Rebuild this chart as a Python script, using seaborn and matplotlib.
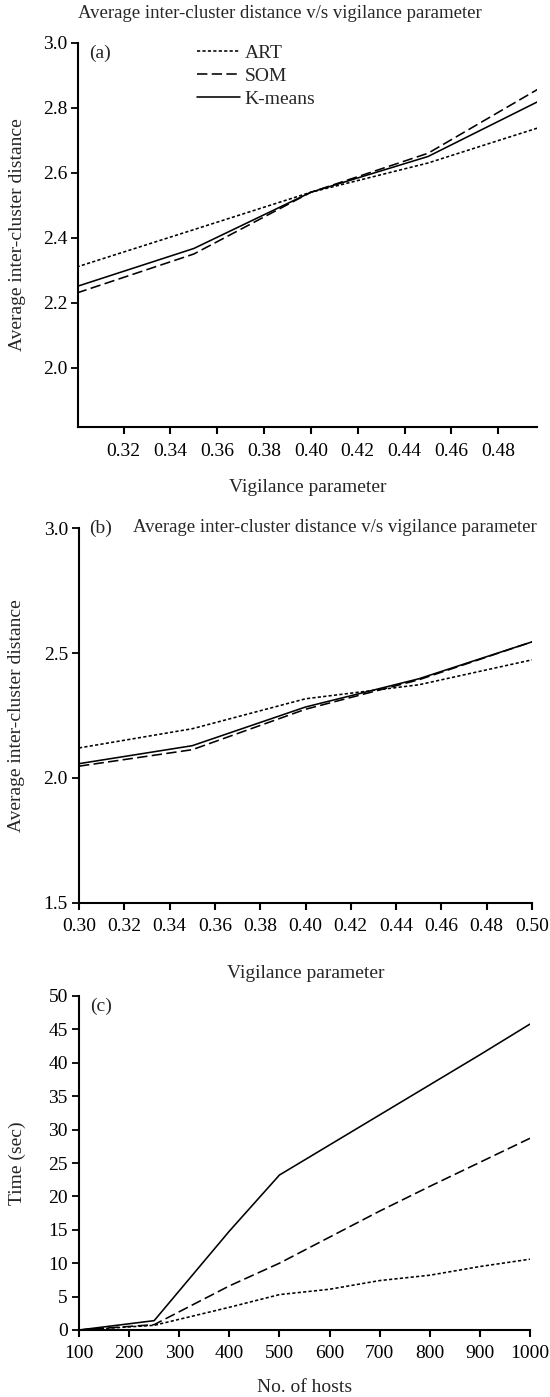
import numpy as np
import pandas as pd
import matplotlib
matplotlib.use("Agg")
import matplotlib.pyplot as plt
import seaborn as sns

# ---------------- data ----------------
methods = ["ART", "SOM", "K-means"]

vig_a = [0.30, 0.35, 0.40, 0.45, 0.50]
art_a = [2.31, 2.425, 2.54, 2.63, 2.745]
som_a = [2.23, 2.35, 2.54, 2.66, 2.87]
km_a = [2.25, 2.367, 2.54, 2.65, 2.83]

vig_b = [0.30, 0.35, 0.40, 0.45, 0.50]
art_b = [2.12, 2.197, 2.317, 2.373, 2.473]
som_b = [2.047, 2.113, 2.275, 2.393, 2.545]
km_b = [2.057, 2.129, 2.284, 2.397, 2.545]

hosts = [100, 250, 400, 500, 600, 700, 800, 900, 1000]
art_c = [0.0, 0.7, 3.4, 5.3, 6.1, 7.4, 8.2, 9.5, 10.6]
som_c = [0.0, 0.8, 6.6, 10.0, 13.9, 17.8, 21.5, 25.1, 28.7]
km_c = [0.0, 1.4, 14.8, 23.2, 27.7, 32.2, 36.7, 41.2, 45.8]

xticks_a = [0.32, 0.34, 0.36, 0.38, 0.40, 0.42, 0.44, 0.46, 0.48]
yticks_a = [2.0, 2.2, 2.4, 2.6, 2.8, 3.0]
xticks_b = [0.30, 0.32, 0.34, 0.36, 0.38, 0.40, 0.42, 0.44, 0.46, 0.48, 0.50]
yticks_b = [1.5, 2.0, 2.5, 3.0]
xticks_c = [100, 200, 300, 400, 500, 600, 700, 800, 900, 1000]
yticks_c = [0, 5, 10, 15, 20, 25, 30, 35, 40, 45, 50]

title_txt = "Average inter-cluster distance v/s vigilance parameter"
xlab_ab = "Vigilance parameter"
ylab_ab = "Average inter-cluster distance"
xlab_c = "No. of hosts"
ylab_c = "Time (sec)"


def long_df(x, series):
    rows = []
    for name, vals in series.items():
        for xi, yi in zip(x, vals):
            rows.append({"x": xi, "y": yi, "method": name})
    return pd.DataFrame(rows)


df_a = long_df(vig_a, {"ART": art_a, "SOM": som_a, "K-means": km_a})
df_b = long_df(vig_b, {"ART": art_b, "SOM": som_b, "K-means": km_b})
df_c = long_df(hosts, {"ART": art_c, "SOM": som_c, "K-means": km_c})

# ---------------- style ----------------
sns.set_style("ticks")
plt.rcParams["font.family"] = ["Liberation Serif", "DejaVu Serif"]
plt.rcParams["font.size"] = 14
plt.rcParams["axes.linewidth"] = 1.5
plt.rcParams["xtick.major.width"] = 1.5
plt.rcParams["ytick.major.width"] = 1.3
plt.rcParams["xtick.major.size"] = 5
plt.rcParams["ytick.major.size"] = 5
plt.rcParams["xtick.major.pad"] = 6
plt.rcParams["ytick.major.pad"] = 3
plt.rcParams["xtick.color"] = "black"
plt.rcParams["ytick.color"] = "black"
plt.rcParams["axes.edgecolor"] = "black"

W, H = 550, 1397
fig = plt.figure(figsize=(W / 100, H / 100), dpi=100)


def rect(l, r, t, b):
    return [l / W, 1 - b / H, (r - l) / W, (b - t) / H]


RA = (78.3, 537, 42.7, 427.3)
RB = (79, 532, 528.3, 902.7)
RC = (79, 530, 996, 1330)
ax_a = fig.add_axes(rect(*RA))
ax_b = fig.add_axes(rect(*RB))
ax_c = fig.add_axes(rect(*RC))

dash_map = {"ART": (2.0, 1.4), "SOM": (6.5, 2.7), "K-means": ""}
lw = 1.15

for ax, df, leg in [(ax_a, df_a, True), (ax_b, df_b, False), (ax_c, df_c, False)]:
    sns.lineplot(data=df, x="x", y="y", style="method", style_order=methods,
                 dashes=dash_map, color="black", linewidth=lw, sort=False,
                 ax=ax, legend=leg)
    sns.despine(ax=ax)
    ax.tick_params(labelsize=14, direction="out")

# Panel (a)
ax_a.set_xlim(0.3007, 0.4965)
ax_a.set_ylim(1.817, 3.0)
ax_a.set_xticks(xticks_a)
ax_a.set_xticklabels([f"{v:.2f}" for v in xticks_a])
ax_a.set_yticks(yticks_a)
ax_a.set_yticklabels([f"{v:.1f}" for v in yticks_a])

# Panel (b)
ax_b.set_xlim(0.30, 0.50)
ax_b.set_ylim(1.5, 3.0)
ax_b.set_xticks(xticks_b)
ax_b.set_xticklabels([f"{v:.2f}" for v in xticks_b])
ax_b.set_yticks(yticks_b)
ax_b.set_yticklabels([f"{v:.1f}" for v in yticks_b])

# Panel (c)
ax_c.set_xlim(100, 1000)
ax_c.set_ylim(0, 50)
ax_c.set_xticks(xticks_c)
ax_c.set_yticks(yticks_c)


def set_labels(ax, xl, yl, x_y_px, y_x_px, ax_rect_px):
    l, r, t, b = ax_rect_px
    ax.set_xlabel(xl, fontsize=14, va="center")
    ax.set_ylabel(yl, fontsize=14, va="center")
    ax.xaxis.set_label_coords(0.5, (b - x_y_px) / (b - t))
    ax.yaxis.set_label_coords((y_x_px - l) / (r - l), 0.5)


set_labels(ax_a, xlab_ab, ylab_ab, 487, 17, RA)
set_labels(ax_b, xlab_ab, ylab_ab, 973, 17, RB)
set_labels(ax_c, xlab_c, ylab_c, 1387, 17, RC)

# legend (a)
handles, labels = ax_a.get_legend_handles_labels()
ax_a.legend(handles, labels, loc="upper left",
            bbox_to_anchor=(197 / W, 1 - 44 / H), bbox_transform=fig.transFigure,
            frameon=False, fontsize=14, handlelength=2.2, handletextpad=0.25,
            labelspacing=0.28, borderpad=0, borderaxespad=0)

# titles and panel labels
fig.text(78 / W, 1 - 14 / H, title_txt, ha="left", va="center", fontsize=13.5)
fig.text(89 / W, 1 - 53 / H, "(a)", ha="left", va="center", fontsize=14)
fig.text(89 / W, 1 - 528 / H, "(b)", ha="left", va="center", fontsize=14)
fig.text(133 / W, 1 - 528 / H, title_txt, ha="left", va="center", fontsize=13.5)
fig.text(90 / W, 1 - 1006 / H, "(c)", ha="left", va="center", fontsize=14)

fig.savefig("out.png", dpi=100)
